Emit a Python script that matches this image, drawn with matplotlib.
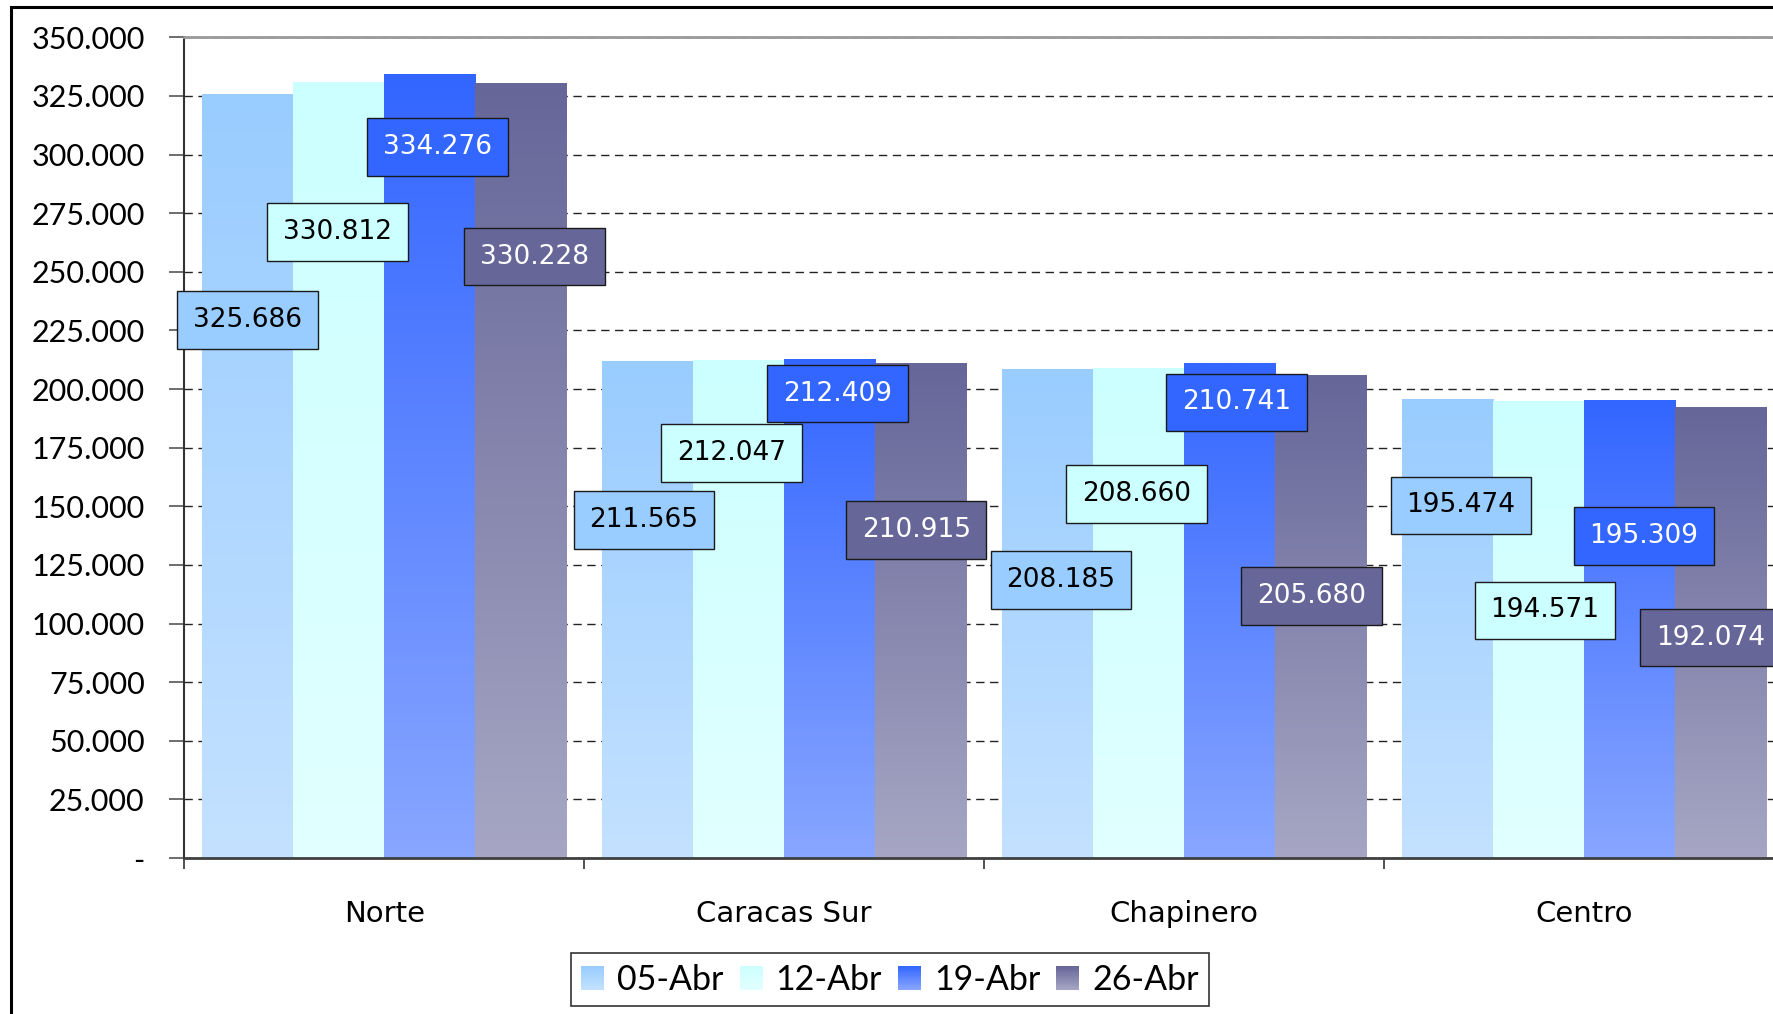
import numpy as np
import matplotlib.pyplot as plt
from matplotlib.patches import Rectangle
from matplotlib.colors import to_rgb
from matplotlib.ticker import FuncFormatter

zonas = ["Norte", "Caracas Sur", "Chapinero", "Centro"]
semanas = ["05-Abr", "12-Abr", "19-Abr", "26-Abr"]
v_05abr = [325686, 211565, 208185, 195474]
v_12abr = [330812, 212047, 208660, 194571]
v_19abr = [334276, 212409, 210741, 195309]
v_26abr = [330228, 210915, 205680, 192074]
valores = [v_05abr, v_12abr, v_19abr, v_26abr]

colores = ["#99CCFF", "#CCFFFF", "#3366FF", "#666699"]
color_texto = ["black", "black", "white", "white"]

# where Excel left the data labels (y in data units, x shift in category units)
etiqueta_y = [[229500, 144100, 118600, 150400],
              [267100, 172600, 155200, 105600],
              [303200, 198100, 194300, 137400],
              [256500, 139800, 111800, 94000]]
etiqueta_dx = [[0, -3, 12, 12],
               [-1, -6, -2, 6],
               [7, 7, 6, 13],
               [12, -4, -8, -9]]


def aclarar(color, f=0.42):
    c = np.array(to_rgb(color))
    return c + (1 - c) * f


def degradado(ax, x0, ancho, alto, color, z=2):
    top = np.array(to_rgb(color))
    bottom = aclarar(color)
    t = np.linspace(0, 1, 256)[:, None]
    img = (bottom + (top - bottom) * t)[:, None, :]
    ax.imshow(img, extent=(x0, x0 + ancho, 0, alto), origin="lower",
              aspect="auto", zorder=z, interpolation="bilinear")


class HandlerDegradado:
    def legend_artist(self, legend, orig_handle, fontsize, handlebox):
        x0, y0 = handlebox.xdescent, handlebox.ydescent
        w, h = handlebox.width, handlebox.height
        top = np.array(to_rgb(orig_handle.get_facecolor()))
        bottom = aclarar(orig_handle.get_facecolor())
        n = 20
        for k in range(n):
            c = bottom + (top - bottom) * (k + 0.5) / n
            r = Rectangle((x0, y0 + h * k / n), w, h / n + 0.3, facecolor=c,
                          edgecolor="none", transform=handlebox.get_transform())
            handlebox.add_artist(r)
        return r


fig = plt.figure(figsize=(17.73, 10.14), dpi=100)
ax = fig.add_axes([0.1039, 0.1538, 0.9022, 0.8094])

x = np.arange(len(zonas))
ancho = 0.2277
for i, serie in enumerate(valores):
    pos = x + (i - 1.5) * ancho
    ax.bar(pos, serie, width=ancho, color=colores[i], zorder=1)
    for j, v in enumerate(serie):
        degradado(ax, pos[j] - ancho / 2, ancho, v, colores[i])
        ax.text(pos[j] + etiqueta_dx[i][j] / 353.5, etiqueta_y[i][j],
                f"{v:,}".replace(",", "."), ha="center", va="center",
                fontsize=19, family="DejaVu Sans", color=color_texto[i],
                zorder=5, clip_on=False,
                bbox=dict(boxstyle="square,pad=0.6", facecolor=colores[i],
                          edgecolor="#1a1a1a", linewidth=1))

ax.set_xlim(-0.5, 3.5)
ax.set_ylim(0, 350000)

ax.set_yticks(np.arange(0, 350001, 25000))
ax.yaxis.set_major_formatter(FuncFormatter(
    lambda v, p: "-" if v == 0 else f"{int(v):,}".replace(",", ".")))
for lab in ax.get_yticklabels():
    lab.set_family("Lato")
ax.tick_params(axis="y", direction="out", length=10.5, width=1.2,
               color="#555555", pad=18, labelsize=22)

ax.set_xticks(np.arange(-0.5, 3.6, 1))
ax.set_xticklabels([])
ax.set_xticks(x, minor=True)
ax.set_xticklabels(zonas, minor=True, family="DejaVu Sans", fontsize=21)
ax.tick_params(axis="x", which="major", direction="out", length=8,
               width=1.2, color="#333333")
ax.tick_params(axis="x", which="minor", length=0, pad=30)

ax.yaxis.grid(True, linestyle=(0, (6, 4)), color="#222222", linewidth=1)
ax.set_axisbelow(True)

ax.spines["top"].set_color("#999999")
ax.spines["top"].set_linewidth(2)
ax.spines["left"].set_color("#333333")
ax.spines["left"].set_linewidth(1.5)
ax.spines["bottom"].set_color("#404040")
ax.spines["bottom"].set_linewidth(2)
ax.spines["right"].set_visible(False)

handles = [Rectangle((0, 0), 1, 1, facecolor=c) for c in colores]
leg = fig.legend(handles, semanas, loc="center", bbox_to_anchor=(0.502, 0.034),
                 ncol=4, frameon=True, fancybox=False, handlelength=0.68,
                 handleheight=0.68, handletextpad=0.38, columnspacing=0.47,
                 borderpad=0.3, prop={"family": "Lato", "size": 24.5},
                 handler_map={Rectangle: HandlerDegradado()})
leg.get_frame().set_edgecolor("black")
leg.get_frame().set_linewidth(1.2)

# marco exterior del grafico
fig.patches.append(Rectangle((11 / 1773, -0.05), 1.1, 1.05 - 7 / 1014,
                             transform=fig.transFigure, fill=False,
                             edgecolor="black", linewidth=2.2))

fig.savefig("out.png", dpi=100)
